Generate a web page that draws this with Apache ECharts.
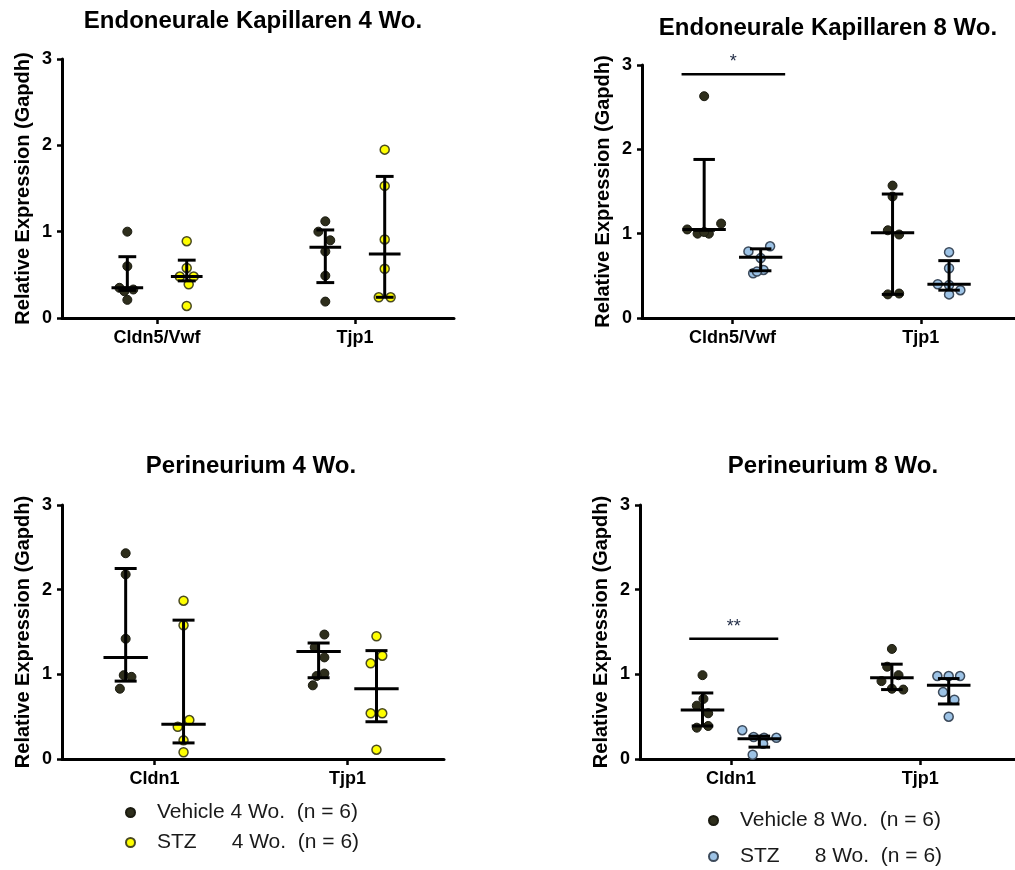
<!DOCTYPE html>
<html>
<head>
<meta charset="utf-8">
<title>Endoneurale Kapillaren / Perineurium</title>
<script src="https://cdn.jsdelivr.net/npm/echarts@6/dist/echarts.min.js"></script>
<style>
  html, body { margin: 0; background: #fff; }
  #main { width: 1015px; height: 870px; }
</style>
</head>
<body>
<div id="main"></div>
<script>
// categories
const genesEndo = ['Cldn5/Vwf', 'Tjp1']
const genesPeri = ['Cldn1', 'Tjp1']
const yTicks = [0, 1, 2, 3]

// legend names
const veh4 = 'Vehicle 4 Wo.  (n = 6)'
const stz4 = 'STZ      4 Wo.  (n = 6)'
const veh8 = 'Vehicle 8 Wo.  (n = 6)'
const stz8 = 'STZ      8 Wo.  (n = 6)'

// Endoneurale Kapillaren 4 Wo. (one row per gene)
const endo4Veh = [[1.00, 0.60, 0.35, 0.33, 0.31, 0.21], [1.12, 1.00, 0.90, 0.77, 0.49, 0.19]]
const endo4Stz = [[0.89, 0.58, 0.48, 0.48, 0.39, 0.14], [1.95, 1.53, 0.91, 0.57, 0.24, 0.24]]
const endo4VehJit = [[0, 0, -0.04, 0.03, -0.015, 0], [0, -0.035, 0.025, 0, 0, 0]]
const endo4StzJit = [[0, 0, -0.035, 0.035, 0.01, 0], [0, 0, 0, 0, -0.03, 0.03]]
const endo4VehMed = [0.35, 0.82], endo4VehLo = [0.32, 0.41], endo4VehHi = [0.71, 1.02]
const endo4StzMed = [0.48, 0.74], endo4StzLo = [0.43, 0.24], endo4StzHi = [0.67, 1.64]

// Endoneurale Kapillaren 8 Wo.
const endo8Veh = [[2.63, 1.12, 1.05, 1.00, 1.00, 1.02], [1.57, 1.44, 1.04, 0.99, 0.28, 0.29]]
const endo8Stz = [[0.85, 0.79, 0.71, 0.57, 0.53, 0.55], [0.78, 0.59, 0.40, 0.39, 0.33, 0.28]]
const endo8VehJit = [[0, 0.09, -0.09, -0.035, 0.025, 0], [0, 0, -0.025, 0.035, -0.025, 0.035]]
const endo8StzJit = [[0.05, -0.065, 0, 0.015, -0.04, -0.02], [0, 0, -0.06, 0, 0.06, 0]]
const endo8VehMed = [1.05, 1.01], endo8VehLo = [1.04, 0.28], endo8VehHi = [1.88, 1.47]
const endo8StzMed = [0.72, 0.40], endo8StzLo = [0.56, 0.33], endo8StzHi = [0.82, 0.68]

// Perineurium 4 Wo.
const peri4Veh = [[2.43, 2.18, 1.42, 0.99, 0.97, 0.83], [1.47, 1.32, 1.20, 1.01, 0.98, 0.87]]
const peri4Stz = [[1.87, 1.58, 0.46, 0.38, 0.22, 0.08], [1.45, 1.22, 1.13, 0.54, 0.54, 0.11]]
const peri4VehJit = [[0, 0, 0, -0.01, 0.03, -0.03], [0.03, -0.02, 0.03, 0.03, -0.01, -0.03]]
const peri4StzJit = [[0, 0, 0.03, -0.03, 0, 0], [0, 0.03, -0.03, -0.03, 0.03, 0]]
const peri4VehMed = [1.20, 1.27], peri4VehLo = [0.92, 0.96], peri4VehHi = [2.25, 1.37]
const peri4StzMed = [0.41, 0.83], peri4StzLo = [0.19, 0.44], peri4StzHi = [1.64, 1.28]

// Perineurium 8 Wo.
const peri8Veh = [[0.99, 0.71, 0.63, 0.54, 0.39, 0.37], [1.30, 1.09, 0.99, 0.92, 0.83, 0.82]]
const peri8Stz = [[0.34, 0.26, 0.25, 0.25, 0.18, 0.05], [0.98, 0.98, 0.98, 0.79, 0.70, 0.50]]
const peri8VehJit = [[0, 0.005, -0.03, 0.03, 0.03, -0.03], [0, -0.025, 0.035, -0.055, 0, 0.06]]
const peri8StzJit = [[-0.09, -0.03, 0.025, 0.09, 0.02, -0.035], [-0.06, 0, 0.06, -0.03, 0.03, 0]]
const peri8VehMed = [0.58, 0.96], peri8VehLo = [0.39, 0.82], peri8VehHi = [0.78, 1.12]
const peri8StzMed = [0.24, 0.87], peri8StzLo = [0.14, 0.65], peri8StzHi = [0.27, 0.95]

// significance brackets: from, to, y and the label
const endo8Sig = [0.73, 1.28, 2.89], endo8SigLabel = '*'
const peri8Sig = [0.78, 1.25, 1.42], peri8SigLabel = '**'

const FONT = '"Liberation Sans", Arial, sans-serif'
const GROUP_OFF = 0.15

const panels = [
  { title: 'Endoneurale Kapillaren 4 Wo.', titleX: 253, titleY: 21, genes: genesEndo,
    grid: { left: 62, top: 59, width: 392, height: 259 }, medHalf: 0.08, capHalf: 0.045,
    veh: endo4Veh, vehJit: endo4VehJit, vehStats: [endo4VehMed, endo4VehLo, endo4VehHi], vehName: veh4,
    stz: endo4Stz, stzJit: endo4StzJit, stzStats: [endo4StzMed, endo4StzLo, endo4StzHi], stzName: stz4,
    stzColor: '#ffff00', stzBorder: '#4a4a20' },
  { title: 'Endoneurale Kapillaren 8 Wo.', titleX: 828, titleY: 28, genes: genesEndo,
    grid: { left: 642, top: 65, width: 380, height: 253 }, medHalf: 0.115, capHalf: 0.057,
    veh: endo8Veh, vehJit: endo8VehJit, vehStats: [endo8VehMed, endo8VehLo, endo8VehHi], vehName: veh8,
    stz: endo8Stz, stzJit: endo8StzJit, stzStats: [endo8StzMed, endo8StzLo, endo8StzHi], stzName: stz8,
    stzColor: '#9dc3e6', stzBorder: '#3d4b5c', sig: endo8Sig, sigLabel: endo8SigLabel },
  { title: 'Perineurium 4 Wo.', titleX: 251, titleY: 466, genes: genesPeri,
    grid: { left: 62, top: 505, width: 382, height: 254 }, medHalf: 0.115, capHalf: 0.057,
    veh: peri4Veh, vehJit: peri4VehJit, vehStats: [peri4VehMed, peri4VehLo, peri4VehHi], vehName: veh4,
    stz: peri4Stz, stzJit: peri4StzJit, stzStats: [peri4StzMed, peri4StzLo, peri4StzHi], stzName: stz4,
    stzColor: '#ffff00', stzBorder: '#4a4a20' },
  { title: 'Perineurium 8 Wo.', titleX: 833, titleY: 466, genes: genesPeri,
    grid: { left: 640, top: 505, width: 382, height: 254 }, medHalf: 0.115, capHalf: 0.057,
    veh: peri8Veh, vehJit: peri8VehJit, vehStats: [peri8VehMed, peri8VehLo, peri8VehHi], vehName: veh8,
    stz: peri8Stz, stzJit: peri8StzJit, stzStats: [peri8StzMed, peri8StzLo, peri8StzHi], stzName: stz8,
    stzColor: '#9dc3e6', stzBorder: '#3d4b5c', sig: peri8Sig, sigLabel: peri8SigLabel }
]

const pointData = (vals, jit, side) => {
  const out = []
  vals.forEach((row, i) => {
    row.forEach((v, j) => out.push([i + 1 + side * GROUP_OFF + jit[i][j], v]))
  })
  return out
}

const statData = (stats, side) =>
  stats[0].map((m, i) => [i + 1 + side * GROUP_OFF, m, stats[1][i], stats[2][i]])

const errorBars = (medHalf, capHalf) => (params, api) => {
  const x = api.value(0)
  const pm = api.coord([x, api.value(1)])
  const pl = api.coord([x, api.value(2)])
  const ph = api.coord([x, api.value(3)])
  const mw = api.size([medHalf, 0])[0]
  const cw = api.size([capHalf, 0])[0]
  const style = { stroke: '#000', lineWidth: 3 }
  return {
    type: 'group',
    children: [
      { type: 'line', shape: { x1: pl[0], y1: pl[1], x2: ph[0], y2: ph[1] }, style },
      { type: 'line', shape: { x1: pm[0] - mw, y1: pm[1], x2: pm[0] + mw, y2: pm[1] }, style },
      { type: 'line', shape: { x1: pl[0] - cw, y1: pl[1], x2: pl[0] + cw, y2: pl[1] }, style },
      { type: 'line', shape: { x1: ph[0] - cw, y1: ph[1], x2: ph[0] + cw, y2: ph[1] }, style }
    ]
  }
}

const sigBar = label => (params, api) => {
  const a = api.coord([api.value(0), api.value(2)])
  const b = api.coord([api.value(1), api.value(2)])
  return {
    type: 'group',
    children: [
      { type: 'line', shape: { x1: a[0], y1: a[1], x2: b[0], y2: b[1] }, style: { stroke: '#000', lineWidth: 2.5 } },
      { type: 'text', x: (a[0] + b[0]) / 2, y: a[1] - 3,
        style: { text: label, fill: '#1f2a44', font: '18px ' + FONT, align: 'center', verticalAlign: 'bottom' } }
    ]
  }
}

const grid = [], xAxis = [], yAxis = [], series = [], graphic = []

panels.forEach((p, k) => {
  graphic.push({
    type: 'text', x: p.titleX, y: p.titleY,
    style: { text: p.title, fill: '#000', font: 'bold 24px ' + FONT, align: 'center', verticalAlign: 'middle' }
  })
  grid.push(p.grid)
  xAxis.push({
    gridIndex: k, type: 'value', min: 0.52, max: 2.5,
    splitLine: { show: false },
    axisLine: { lineStyle: { color: '#000', width: 3 } },
    axisTick: { show: true, customValues: [1, 2], length: 6, lineStyle: { color: '#000', width: 2.5 } },
    axisLabel: { customValues: [1, 2], formatter: v => p.genes[Math.round(v) - 1], margin: 11,
      fontFamily: FONT, fontSize: 18, fontWeight: 'bold', color: '#000' }
  })
  yAxis.push({
    gridIndex: k, type: 'value', min: yTicks[0], max: yTicks[yTicks.length - 1], interval: 1,
    name: 'Relative Expression (Gapdh)', nameLocation: 'middle', nameGap: 29,
    nameTextStyle: { fontFamily: FONT, fontSize: 20, fontWeight: 'bold', color: '#000' },
    splitLine: { show: false },
    axisLine: { show: true, lineStyle: { color: '#000', width: 3 } },
    axisTick: { show: true, length: 5, lineStyle: { color: '#000', width: 2.5 } },
    axisLabel: { margin: 10, fontFamily: FONT, fontSize: 18, fontWeight: 'bold', color: '#000' }
  })
  series.push({
    name: p.vehName, type: 'scatter', xAxisIndex: k, yAxisIndex: k, symbol: 'circle', symbolSize: 9,
    itemStyle: { color: '#2e2e1c', borderColor: '#1a1a10', borderWidth: 1, opacity: 1 },
    data: pointData(p.veh, p.vehJit, -1), z: 2
  })
  series.push({
    name: p.stzName, type: 'scatter', xAxisIndex: k, yAxisIndex: k, symbol: 'circle', symbolSize: 9,
    itemStyle: { color: p.stzColor, borderColor: p.stzBorder, borderWidth: 1.5, opacity: 1 },
    data: pointData(p.stz, p.stzJit, 1), z: 2
  })
  series.push({
    type: 'custom', xAxisIndex: k, yAxisIndex: k, z: 3, silent: true,
    renderItem: errorBars(p.medHalf, p.capHalf),
    data: statData(p.vehStats, -1).concat(statData(p.stzStats, 1))
  })
  if (p.sig) {
    series.push({
      type: 'custom', xAxisIndex: k, yAxisIndex: k, z: 3, silent: true,
      renderItem: sigBar(p.sigLabel), data: [p.sig]
    })
  }
})

const legendText = { fontFamily: FONT, fontSize: 21, color: '#1a1a1a', padding: [0, 0, 0, 17] }

const myChart = echarts.init(document.getElementById('main'), null, { renderer: 'canvas' })
myChart.setOption({
  backgroundColor: '#fff',
  animation: false,
  graphic,
  grid,
  xAxis,
  yAxis,
  legend: [
    { data: [veh4, stz4], orient: 'vertical', left: 125, top: 802, width: 300, height: 66, padding: 0,
      itemGap: 9, icon: 'circle', itemWidth: 9, itemHeight: 9, textStyle: legendText },
    { data: [veh8, stz8], orient: 'vertical', left: 708, top: 810, width: 300, height: 60, padding: 0,
      itemGap: 15, icon: 'circle', itemWidth: 9, itemHeight: 9, textStyle: legendText }
  ],
  series
})
</script>
</body>
</html>
